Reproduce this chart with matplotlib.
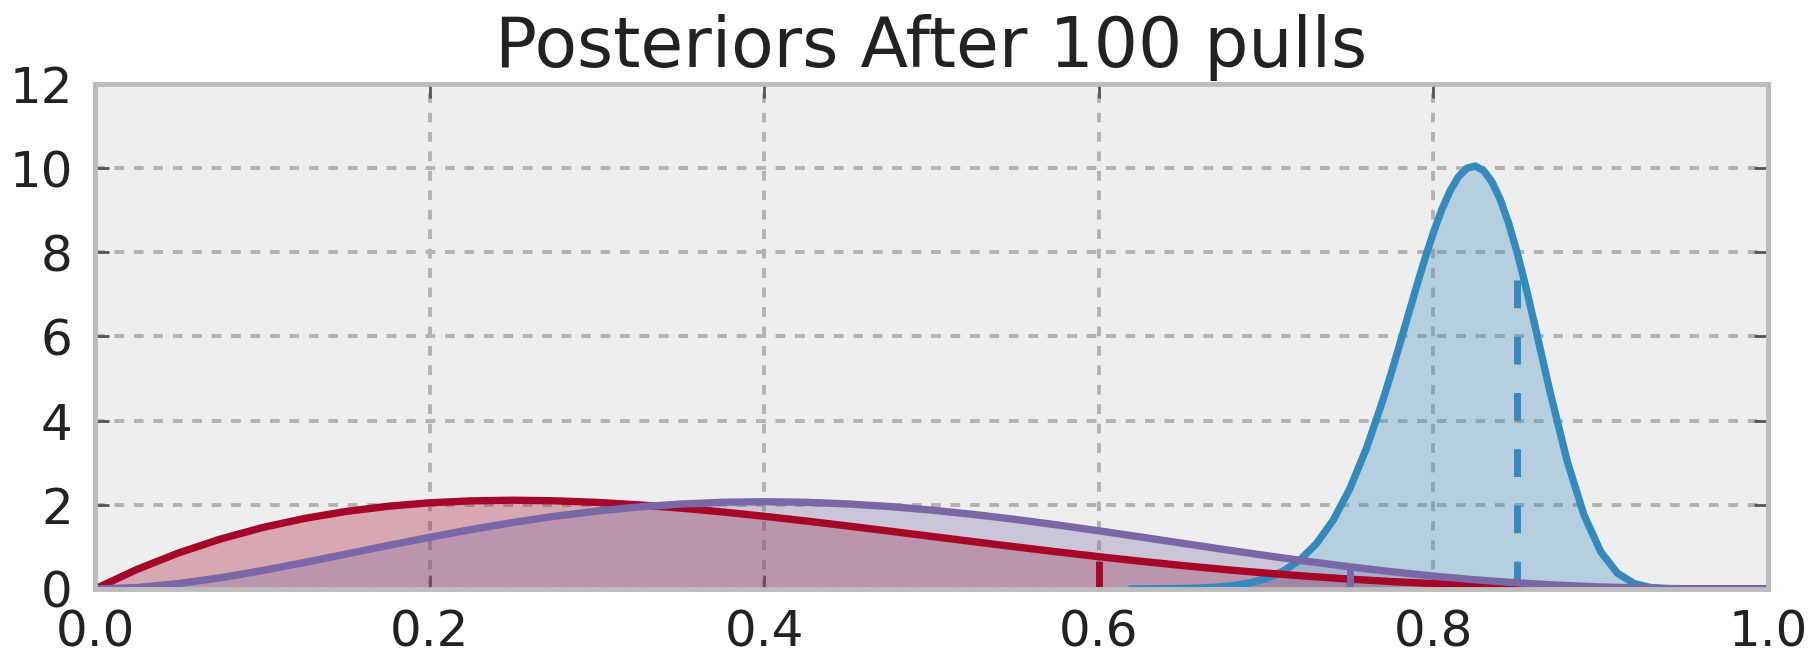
import matplotlib
matplotlib.use("Agg")
import matplotlib.pyplot as plt

# posterior densities after 100 pulls, one list per arm
x_grid = [0.0, 0.025, 0.05, 0.075, 0.1, 0.125, 0.15, 0.175, 0.2, 0.225, 0.25,
          0.275, 0.3, 0.325, 0.35, 0.375, 0.4, 0.425, 0.45, 0.475, 0.5,
          0.525, 0.55, 0.575, 0.6, 0.625, 0.65, 0.675, 0.7, 0.725, 0.75,
          0.775, 0.8, 0.825, 0.85, 0.875, 0.9, 0.925, 0.95, 0.975, 1.0]

red_pdf = [0.0, 0.4634, 0.8574, 1.1872, 1.458, 1.6748, 1.8424, 1.9653, 2.048,
           2.0947, 2.1094, 2.0959, 2.058, 1.9991, 1.9224, 1.8311, 1.728,
           1.6159, 1.4974, 1.3747, 1.25, 1.1253, 1.0024, 0.8828, 0.768,
           0.6592, 0.5574, 0.4634, 0.378, 0.3016, 0.2344, 0.1766, 0.128,
           0.0884, 0.0574, 0.0342, 0.018, 0.0078, 0.0024, 0.0003, 0.0]

purple_pdf = [0.0, 0.0348, 0.1286, 0.2671, 0.4374, 0.6281, 0.8291, 1.0318,
              1.2288, 1.4139, 1.582, 1.7291, 1.8522, 1.9491, 2.0185, 2.06,
              2.0736, 2.0603, 2.0215, 1.9589, 1.875, 1.7723, 1.654, 1.5228,
              1.3824, 1.236, 1.0869, 0.9384, 0.7938, 0.656, 0.5273, 0.4106,
              0.3072, 0.2188, 0.1464, 0.0898, 0.0486, 0.0216, 0.0068, 0.0009,
              0.0]

blue_x = [0.62, 0.65, 0.66, 0.67, 0.68, 0.69, 0.70, 0.71, 0.72, 0.73, 0.74,
          0.75, 0.76, 0.77, 0.775, 0.78, 0.785, 0.79, 0.795, 0.80, 0.805,
          0.81, 0.815, 0.82, 0.825, 0.83, 0.835, 0.84, 0.845, 0.85, 0.855,
          0.86, 0.865, 0.87, 0.88, 0.89, 0.90, 0.91, 0.92, 0.93, 0.94, 0.95,
          0.96, 1.0]
blue_pdf = [0.001, 0.0113, 0.0223, 0.0428, 0.0794, 0.1429, 0.2487, 0.4191,
            0.6823, 1.0729, 1.6273, 2.3777, 3.3413, 4.5076, 5.153, 5.826,
            6.5122, 7.1951, 7.8545, 8.4669, 9.0103, 9.461, 9.797, 9.9979,
            10.05, 9.943, 9.6762, 9.2551, 8.6908, 8.0059, 7.2246, 6.3821,
            5.5085, 4.6402, 3.0382, 1.7622, 0.8866, 0.3763, 0.1297, 0.0344,
            0.0065, 0.0008, 0.0001, 0.0]

true_probs = [0.85, 0.60, 0.75]
colors = ["#348ABD", "#A60628", "#7A68A6"]

fig = plt.figure(figsize=(18.12, 6.54), dpi=100)
ax = fig.add_axes([0.0524, 0.0994, 0.9233, 0.7722])
ax.set_facecolor("#eeeeee")

arms = [(blue_x, blue_pdf), (x_grid, red_pdf), (x_grid, purple_pdf)]
for (xs, ys), p, c in zip(arms, true_probs, colors):
    ax.plot(xs, ys, color=c, lw=5.3)
    ax.fill_between(xs, ys, 0, color=c, alpha=0.3, lw=0)
    # dashed marker up to the density at the true probability
    h = ys[xs.index(p)]
    ax.vlines(p, 0, h, colors=c, linestyles=(0, (4.0, 4.1)), lw=5.0)

ax.set_xlim(0, 1)
ax.set_ylim(0, 12)
ax.set_xticks([0.0, 0.2, 0.4, 0.6, 0.8, 1.0])
ax.set_yticks([0, 2, 4, 6, 8, 10, 12])

ax.grid(True, color="#b2b2b2", lw=2.8, linestyle=(0, (2.5, 2.5)))
ax.set_axisbelow(True)

for s in ax.spines.values():
    s.set_color("#bcbcbc")
    s.set_linewidth(3.5)

ax.tick_params(direction="in", length=10, width=2, color="#555555",
               top=True, right=True, labelsize=36, labelcolor="#222222")
ax.tick_params(axis="y", pad=16)
ax.tick_params(axis="x", pad=14)

ax.set_title("Posteriors After 100 pulls", fontsize=50, color="#222222", pad=12)

fig.savefig("out.png", dpi=100)
